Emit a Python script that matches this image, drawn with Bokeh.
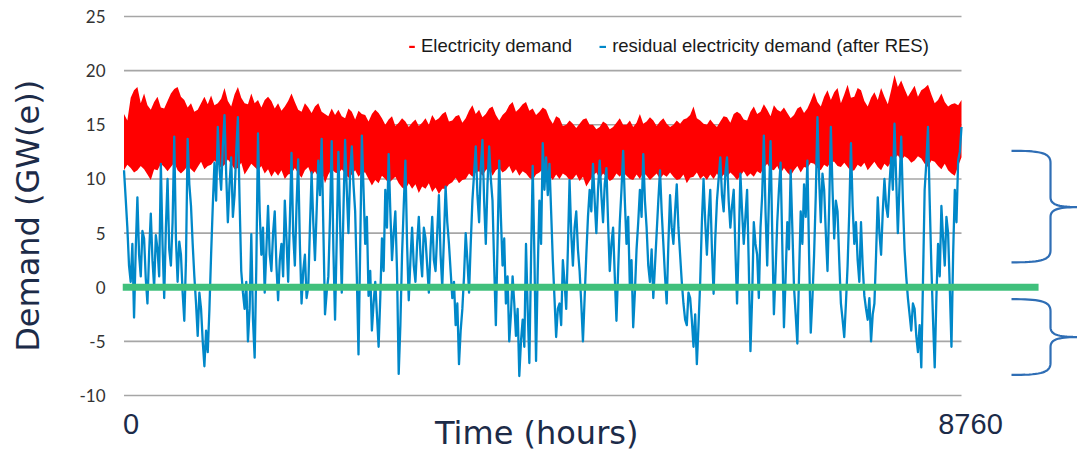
import numpy as np
from bokeh.plotting import figure
from bokeh.models import FixedTicker, Label, Legend, LegendItem, Range1d
from bokeh.embed import file_html
from bokeh.resources import INLINE

# ---------------- data ----------------
HOURS_PER_YEAR = 8760
y_ticks = [-10, -5, 0, 5, 10, 15, 20, 25]
x_tick_values = [0, 8760]
x_tick_labels = ["0", "8760"]
legend_labels = ["Electricity demand", "residual electricity demand (after RES)"]

# electricity demand: upper and lower edge of the hourly curve (GW), ~every 35 h
demand_high = [16.0, 15.4, 17.5, 18.2, 18.5, 17.0, 17.9, 16.8, 16.4, 17.1, 17.6, 16.6, 16.5, 17.2, 17.9, 18.3,
               18.5, 17.6, 17.3, 16.6, 17.0, 16.2, 16.4, 17.0, 17.6, 16.9, 17.7, 16.8, 17.0, 17.4, 18.4, 17.2,
               16.7, 17.8, 18.5, 17.5, 17.0, 16.9, 17.9, 17.0, 17.3, 16.6, 17.3, 17.6, 17.2, 16.5, 17.0, 16.3,
               16.7, 17.2, 17.9, 17.1, 16.4, 16.2, 17.0, 16.6, 16.1, 16.7, 17.0, 16.2, 16.0, 15.8, 16.5, 15.9,
               16.4, 15.8, 15.6, 16.5, 16.2, 15.5, 16.3, 16.0, 15.9, 15.3, 16.0, 16.4, 16.1, 15.6, 15.0, 15.5,
               15.8, 14.9, 15.2, 15.6, 15.3, 14.8, 15.2, 15.5, 14.9, 15.2, 15.6, 15.0, 15.9, 15.4, 15.6, 16.0,
               16.2, 15.3, 15.4, 15.8, 15.9, 15.2, 15.6, 16.3, 16.8, 16.0, 16.4, 15.7, 16.0, 16.5, 16.7, 15.9,
               15.4, 15.9, 16.2, 16.8, 17.1, 16.2, 16.5, 16.9, 17.1, 16.3, 16.5, 15.9, 16.2, 16.6,
               16.4, 15.6, 15.1, 15.8, 15.6, 14.9, 15.0, 15.4, 15.1, 14.7, 15.1, 15.5, 15.6, 15.0, 15.0, 14.6,
               14.8, 15.3, 15.1, 14.6, 14.8, 15.2, 15.6, 15.0, 15.0, 15.4, 14.8, 15.2, 16.0, 15.1, 15.3, 15.7,
               15.4, 14.9, 15.3, 15.6, 15.1, 14.8, 15.0, 15.4, 15.1, 15.5, 15.6, 15.9, 16.7, 15.6, 15.4, 15.1,
               15.0, 15.5, 15.1, 14.8, 15.3, 15.8, 15.7, 15.2, 16.0, 16.2, 16.0, 15.5, 15.4, 16.2,
               16.7, 16.0, 16.2, 16.9, 16.4, 15.8, 16.8, 16.4, 16.2, 16.6, 16.1, 15.6, 15.9, 16.5, 16.7, 16.1,
               16.5, 17.2, 18.0, 17.1, 16.7, 17.6, 18.2, 17.3, 18.0, 18.4, 17.0, 17.8, 18.7, 17.5, 17.6, 18.4,
               18.2, 17.2, 16.7, 17.5, 18.0, 17.3, 18.4, 17.6, 16.9, 18.2, 19.6, 18.5, 19.1, 18.3, 17.6, 18.1,
               18.6, 17.6, 18.2, 18.4, 18.7, 17.8, 17.0, 17.3, 17.9, 17.1, 16.7, 16.9, 17.0, 16.8, 17.3]
demand_low = [10.8, 11.3, 11.0, 10.6, 10.8, 11.2, 10.9, 10.4, 9.9, 10.9, 10.8, 11.4, 11.1, 10.7, 11.1, 11.5,
              10.8, 10.5, 10.8, 11.2, 10.9, 10.6, 11.1, 11.6, 10.9, 11.2, 11.3, 11.7, 11.4, 11.0, 11.3, 11.8,
              11.4, 10.9, 11.0, 11.5, 10.4, 10.9, 11.4, 11.1, 10.8, 11.2, 10.5, 10.9, 10.2, 10.7, 10.3, 10.8,
              10.0, 10.4, 10.5, 11.0, 10.5, 10.1, 10.8, 11.1, 10.3, 10.7, 10.2, 10.8, 9.6, 10.4, 10.9, 10.6,
              10.5, 10.9, 10.5, 10.1, 10.4, 10.8, 10.2, 10.6, 10.6, 10.0, 9.4, 9.9, 9.6, 10.3, 10.0, 9.6,
              9.9, 10.2, 9.6, 9.2, 9.0, 9.6, 9.1, 9.5, 8.7, 9.3, 9.1, 9.6, 8.8, 9.2, 8.6, 9.1,
              9.1, 9.5, 9.7, 10.1, 9.6, 9.9, 10.0, 10.5, 10.2, 10.6, 10.7, 10.3, 10.8, 11.1, 10.3, 10.8,
              11.0, 10.6, 10.8, 11.2, 10.5, 10.9, 10.3, 10.7, 10.5, 10.1, 9.9, 10.4, 10.6, 10.9,
              10.6, 10.3, 9.9, 10.4, 10.0, 10.5, 10.3, 9.9, 10.0, 10.4, 9.8, 10.2, 9.3, 9.8, 10.3, 10.6,
              10.0, 10.5, 10.2, 9.8, 10.0, 10.5, 10.2, 10.6, 10.3, 10.0, 9.9, 10.4, 10.0, 10.6, 10.3, 9.9,
              10.2, 10.5, 10.0, 10.4, 10.2, 10.6, 10.2, 9.9, 10.0, 10.4, 9.6, 10.1, 10.2, 10.6, 10.0, 10.3,
              9.9, 10.4, 10.0, 10.5, 10.0, 10.4, 10.2, 10.6, 10.3, 9.9, 10.3, 10.7, 10.2, 10.5,
              10.2, 10.7, 10.5, 11.0, 11.4, 10.9, 10.8, 11.2, 10.5, 11.0, 10.6, 10.3, 10.8, 11.2, 10.6, 11.1,
              11.0, 11.5, 11.4, 11.0, 10.8, 11.3, 11.1, 11.6, 11.6, 11.2, 11.1, 11.5, 11.1, 10.7, 10.8, 11.3,
              11.1, 11.5, 10.8, 11.2, 11.6, 11.1, 10.8, 11.4, 11.1, 11.6, 11.9, 12.2, 11.7, 12.1, 11.9, 11.5,
              11.7, 12.1, 11.9, 11.4, 11.1, 11.7, 11.6, 11.2, 10.9, 11.4, 10.8, 10.5, 10.3, 11.2, 12.0]

# residual electricity demand after RES (GW), ~every 17.5 h
residual = [10.8, 8.2, 5.5, 2.0, 0.5, 4.0, -2.8, 3.5, 8.3, 3.0, 1.0, 5.2, 4.5, 0.8, -1.5, 3.2,
            6.8, 2.5, 0.0, 4.8, 3.5, 1.0, 11.4, 4.0, -1.0, 5.5, 10.0, 3.5, 2.0, 6.0, 13.9, 4.5,
            0.5, 4.2, 3.0, -0.5, -3.1, 2.5, 13.7, 9.5, 7.5, 4.0, 1.0, -1.5, -4.5, -0.5, -2.0, -5.0,
            -7.3, -4.0, -6.0, -2.0, 3.0, 7.5, 11.5, 8.0, 14.8, 11.0, 9.0, 13.0, 15.9, 10.5, 6.0, 9.5,
            12.0, 6.5, 8.5, 12.5, 15.7, 8.0, 1.5, -0.5, -2.0, 0.5, -5.0, -2.0, 4.9, -3.0, -6.5, 2.0,
            14.2, 7.0, 3.0, 5.5, -0.5, 3.5, 7.5, 3.0, 1.5, 5.0, 7.0, 2.0, -1.2, 2.5, 4.0, 1.0,
            8.0, 4.5, 0.5, 6.0, 12.4, 5.0, 2.0, 7.5, 11.8, 4.0, -1.5, 1.5, 3.0, -1.0, 0.0, 5.5,
            10.6, 6.0, 2.5, 7.0, 11.7, 8.5, 13.7, 5.5, -2.5, -0.5, 1.0, 6.5, 13.5, 3.5,
            -3.0, 4.5, 12.5, 6.0, -0.5, 7.0, 13.6, 9.0, 5.0, 10.5, 13.0, 9.5, 7.0, 1.0, -6.2, 3.5,
            14.0, 9.0, 4.0, 6.5, -0.8, 1.5, -4.0, -1.5, 0.5, -2.5, -5.5, -1.0, 4.5, 1.5, 9.0, 5.5,
            12.3, 7.0, 2.5, 5.0, 7.0, 1.5, -8.0, -3.5, 3.0, 7.5, 11.7, 4.0, -1.2, 2.5, 5.5, 2.0,
            0.5, 4.0, 6.5, 3.0, 1.0, 5.5, 4.5, 2.0, -0.5, 3.5, 6.5, 2.5, 1.5, 5.0, 8.5, 3.0,
            0.0, 4.5, 9.3, 6.0, 4.0, 1.5, -1.0, 0.5, -3.5, -1.5, -7.1, -4.0, -2.0, 1.0, 5.0, 2.5,
            -0.5, 4.0, 8.0, 10.5, 13.0, 8.5, 6.0, 11.0, 13.6, 8.0, 4.0, 9.5, 13.0, 10.0, 8.0, 2.0,
            -3.5, 4.0, 11.7, 6.5, 2.0, 4.5, -1.5, 1.0, -5.0, -2.5, 1.0, -1.5, -4.5, -2.0, -8.2, -5.0,
            -3.0, -5.5, 4.0, -2.0, -7.0, 2.5, 11.2, 3.0, -6.8, 1.5, 8.0, 4.0, 13.3, 9.0,
            12.0, 8.5, 11.4, 7.0, 2.5, -1.0, -4.6, -2.0, -1.5, -3.5, 2.5, 0.5, -2.0, 3.5, 9.9, 5.0,
            2.0, 5.5, 7.0, 3.5, 1.5, -1.5, -5.0, -1.0, 3.0, 6.5, 9.0, 7.0, 11.4, 8.0, 5.0, 9.0,
            11.7, 8.5, 6.0, 9.5, 11.0, 6.0, 1.5, 4.0, 5.5, 1.0, -3.1, 1.5, 6.0, 9.0, 12.6, 8.0,
            4.0, 6.5, 0.0, 2.5, -3.7, -0.5, 3.5, 6.0, 9.0, 6.5, 12.3, 8.0, 5.5, 2.0, 0.5, 3.5,
            -1.0, 2.0, 5.0, 8.0, 10.8, 7.0, 4.0, 1.0, -1.5, 4.0, 8.5, 5.5, 4.0, 7.0, 9.5, 5.5,
            3.0, 0.5, -1.5, -3.0, -3.5, -0.5, -1.0, -3.0, -5.5, -2.5, -7.1, -3.5, 0.5, 6.0, 10.0, 6.0,
            3.0, 6.5, 9.0, 3.5, -0.6, 4.5, 8.0, 10.0, 12.0, 8.5, 7.0, 10.5, 12.0, 8.0, 5.5, 7.5,
            9.0, 3.5, -1.5, 4.0, 10.5, 7.0, 4.0, 6.5, 9.0, 2.0, -5.9, -1.0, 6.0, 4.0,
            3.0, -1.0, 5.5, 8.5, 14.0, 7.0, 2.0, 8.0, 13.5, 5.0, -2.5, 1.5, 6.0, 9.0, 11.5, 4.0,
            -3.7, 1.0, 6.0, 3.5, 10.8, 5.5, 0.0, -2.5, -5.2, 1.0, 7.0, 4.0, 9.5, 6.5, 11.7, 3.0,
            -4.2, -1.0, 3.0, 8.5, 15.7, 10.0, 6.0, 10.5, 9.0, 5.0, 1.5, 7.5, 14.8, 9.0, 4.5, 8.0,
            7.0, 2.5, -1.5, -3.0, -4.6, -1.5, 2.0, 7.0, 13.3, 7.5, 4.0, 6.0, 2.5, 0.5, 6.0, 2.0,
            -0.8, -2.0, -3.0, -1.0, -5.0, -2.5, -1.5, 3.0, 8.3, 5.0, 3.0, 7.0, 10.0, 7.5, 6.5, 9.5,
            12.0, 9.0, 15.1, 10.0, 5.0, 9.5, 13.9, 8.0, 3.5, 1.0, -1.0, -2.5, -4.0, -1.5, -2.0, -4.5,
            -6.0, -3.5, -7.4, 0.5, 9.0, 11.5, 14.8, 8.0, 2.0, -3.0, -7.4, -1.0, 4.0, 1.0, 7.5, 4.5,
            2.0, 6.5, 5.0, 0.0, -5.5, 3.0, 9.0, 6.0, 11.7, 12.5, 14.8]

demand_hours = np.linspace(0, HOURS_PER_YEAR, len(demand_high))
residual_hours = np.linspace(0, HOURS_PER_YEAR, len(residual))

# annotation braces on the right: (top, tip, bottom) in GW
brace_spans = [(12.6, 7.4, 2.3), (-1.1, -4.6, -8.1)]

# ---------------- styling ----------------
W, H = 1077, 451
LEFT = 122
X0, X1 = -15.7, 9973.3
Y0, Y1 = -15.17, 26.48
HX = (X1 - X0) / (W - LEFT)          # hours per pixel
VY = (Y1 - Y0) / H                   # GW per pixel

NAVY = "#1C2B48"
RED = "#FF0000"
BLUE = "#0088C9"
GREEN = "#40C07C"
GRID = "#A6A6A6"
BRACE = "#2F6EB5"

p = figure(width=W, height=H, output_backend="svg", toolbar_location=None,
           x_range=Range1d(X0, X1), y_range=Range1d(Y0, Y1),
           x_axis_location=None, min_border_left=LEFT, min_border_right=0,
           min_border_top=0, min_border_bottom=0)
p.outline_line_color = None
p.grid.visible = False
p.background_fill_color = "white"
p.border_fill_color = "white"

# y axis
ax = p.yaxis[0]
ax.ticker = FixedTicker(ticks=y_ticks)
ax.major_label_overrides = {t: str(t) for t in y_ticks}
ax.axis_line_color = None
ax.major_tick_line_color = None
ax.minor_tick_line_color = None
ax.major_tick_out = 0
ax.major_tick_in = 0
ax.minor_tick_out = 0
ax.minor_tick_in = 0
ax.major_label_standoff = 17
ax.major_label_text_font = "Lato"
ax.major_label_text_font_size = "17px"
ax.major_label_text_color = "#333333"
# two no-break spaces lift the centred title to where the reference has it
ax.axis_label = "\u00a0\u00a0Demand (GW(e))"
ax.axis_label_text_font = "DejaVu Sans"
ax.axis_label_text_font_size = "32px"
ax.axis_label_text_font_style = "normal"
ax.axis_label_text_color = NAVY
ax.axis_label_standoff = 29

# horizontal gridlines across the time span
p.segment(x0=[x_tick_values[0]] * len(y_ticks), x1=[x_tick_values[1]] * len(y_ticks),
          y0=y_ticks, y1=y_ticks, line_color=GRID, line_width=1.6)

red = p.varea(x=demand_hours, y1=demand_low, y2=demand_high, fill_color=RED)
blue = p.line(residual_hours, residual, line_color=BLUE, line_width=2.3, line_join="round")

# zero line extending to the braces
p.line([X0, 9566], [0, 0], line_color=GREEN, line_width=7)

# braces
def cubic(p0, c0, c1, p1, n=18):
    t = np.linspace(0, 1, n)[:, None]
    p0, c0, c1, p1 = map(np.array, (p0, c0, c1, p1))
    return (1 - t) ** 3 * p0 + 3 * (1 - t) ** 2 * t * c0 + 3 * (1 - t) * t ** 2 * c1 + t ** 3 * p1

arm_x, spine_x, tip_x = 9283, 9691, 10000
bx, by = [], []
for top, tip, bot in brace_spans:
    segs = [
        cubic((arm_x, top), (arm_x + 29 * HX, top), (spine_x, top - 2 * VY), (spine_x, top - 12 * VY)),
        cubic((spine_x, top - 12 * VY), (spine_x, top - 12 * VY), (spine_x, tip + 10 * VY), (spine_x, tip + 10 * VY), 2),
        cubic((spine_x, tip + 10 * VY), (spine_x, tip + 2 * VY), (spine_x + 8 * HX, tip), (tip_x, tip)),
        cubic((tip_x, tip), (spine_x + 8 * HX, tip), (spine_x, tip - 2 * VY), (spine_x, tip - 10 * VY)),
        cubic((spine_x, tip - 10 * VY), (spine_x, tip - 10 * VY), (spine_x, bot + 12 * VY), (spine_x, bot + 12 * VY), 2),
        cubic((spine_x, bot + 12 * VY), (spine_x, bot + 2 * VY), (arm_x + 29 * HX, bot), (arm_x, bot)),
    ]
    pts = np.vstack(segs)
    bx.append(pts[:, 0].tolist())
    by.append(pts[:, 1].tolist())
p.multi_line(bx, by, line_color=BRACE, line_width=2.2)

# legend
legend = Legend(items=[LegendItem(label=legend_labels[0], renderers=[red]),
                       LegendItem(label=legend_labels[1], renderers=[blue])],
                orientation="horizontal", location=(286, 394),
                padding=0, margin=0, spacing=27, label_standoff=6,
                glyph_width=7, glyph_height=3,
                background_fill_alpha=0, border_line_color=None,
                label_text_font="Liberation Sans", label_text_font_size="18.5px",
                label_text_color="#1A1A1A")
p.add_layout(legend)

# x labels (inside the frame, below the -10 line)
for xv, txt, off in zip(x_tick_values, x_tick_labels, [7, 9]):
    p.add_layout(Label(x=xv, y=-12.67, x_offset=off, text=txt, text_align="center",
                       text_baseline="alphabetic", text_font="Liberation Sans",
                       text_font_size="29px", text_color=NAVY))
p.add_layout(Label(x=HOURS_PER_YEAR / 2, y=-13.5, x_offset=-6, text="Time (hours)",
                   text_align="center", text_baseline="alphabetic", text_font="DejaVu Sans",
                   text_font_size="32px", text_color=NAVY))

open("out.html", "w").write(file_html(p, INLINE))
